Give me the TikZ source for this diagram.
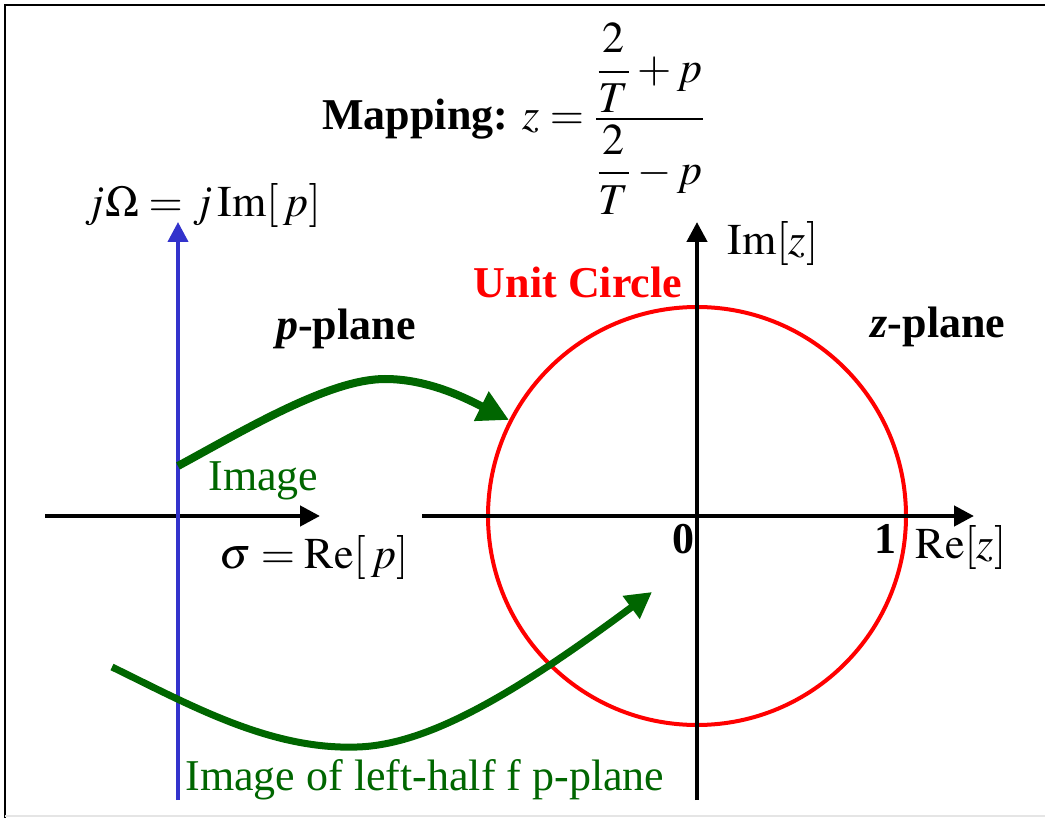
\documentclass[tikz,border=0pt]{standalone}
\usepackage{amsmath}
\usepackage{mathptmx}
\usepackage{fontspec}
\setmainfont{Liberation Serif}
\usepackage{xcolor}
\usepackage{tikz}
\usetikzlibrary{calc, arrows.meta, positioning}

\definecolor{axisblue}{RGB}{51,51,204}
\definecolor{imggreen}{RGB}{0,102,0}

\begin{document}
\begin{tikzpicture}[x=0.5pt, y=-0.5pt,
    every node/.style={inner sep=0pt, font=\fontsize{22}{26}\selectfont},
    axisline/.style={line width=2.2pt, -{Triangle[length=10pt, width=10pt]}},
    mapcurve/.style={imggreen, line width=4pt}]

    \useasboundingbox (0,0) rectangle (1045,818);

    % =================================================================
    % 1. MAIN POINTS (pixel grid, y downwards)
    % =================================================================
    \coordinate (pO) at (178,516);
    \coordinate (pL) at (45,516);
    \coordinate (pR) at (320,516);
    \coordinate (pB) at (178,800);
    \coordinate (pT) at (178,222);

    \coordinate (zO) at (697,516);
    \coordinate (zL) at (422,516);
    \coordinate (zR) at (974,516);
    \coordinate (zB) at (697,800);
    \coordinate (zT) at (697,222);

    % =================================================================
    % 2. FRAME
    % =================================================================
    \draw[line width=1.2pt] (5,818) -- (5,5) -- (1045,5);
    \draw[black!10, line width=1pt] (5,816) -- (1045,816);

    % =================================================================
    % 3. UNIT CIRCLE AND AXES
    % =================================================================
    \draw[red, line width=2pt] (zO) circle[radius=104.5pt];

    % p-plane
    \draw[axisline] (pL) -- (pR);
    \draw[axisline, axisblue, line width=2pt] (pB) -- (pT);

    % z-plane
    \draw[axisline] (zL) -- (zR);
    \draw[axisline] (zB) -- (zT);

    % =================================================================
    % 4. MAPPING CURVES
    % =================================================================
    \coordinate (imgStart) at (178,466);
    \coordinate (imgEnd) at (509,420);
    \coordinate (leftStart) at (112,667);
    \coordinate (leftEnd) at (652,592);

    \draw[mapcurve, -{Triangle[length=15.5pt, width=15.5pt]}]
        (imgStart) .. controls (248,428) and (330,379) .. (385,379)
        .. controls (430,379) and (469,400) .. (imgEnd);

    \draw[mapcurve, line width=3.5pt, -{Triangle[length=13pt, width=13.5pt]}]
        (leftStart) .. controls (190,705) and (270,750) .. (357,747)
        .. controls (430,745) and (520,690) .. (leftEnd);

    % =================================================================
    % 5. LABELS
    % =================================================================
    \node[anchor=base west] (map) at (322,130)
        {\textbf{Mapping:} $z=\dfrac{\dfrac{2}{T}+p}{\dfrac{2}{T}-p}$};

    \node[anchor=base] (jlabel) at (203,217) {$j\Omega = j\,\mathrm{Im}[\,p]$};
    \node[anchor=base] (pplane) at (346,340) {\textbf{\textit{p}-plane}};
    \node[anchor=base west, text=imggreen] (img) at (208,490) {Image};
    \node[anchor=base] (sig) at (314,568) {$\sigma = \mathrm{Re}[\,p]$};
    \node[anchor=base west, text=imggreen] (imgleft) at (185,790)
        {Image of left-half f p-plane};

    \node[anchor=base, text=red] (unit) at (578,298) {\textbf{Unit Circle}};
    \node[anchor=base] (imz) at (773,255) {$\mathrm{Im}[z]$};
    \node[anchor=base] (zplane) at (938,338) {\textbf{\textit{z}-plane}};
    \node[anchor=base] (zero) at (683,553) {\textbf{0}};
    \node[anchor=base] (one) at (885,553) {\textbf{1}};
    \node[anchor=base] (rez) at (961,558) {$\mathrm{Re}[z]$};

\end{tikzpicture}
\end{document}
